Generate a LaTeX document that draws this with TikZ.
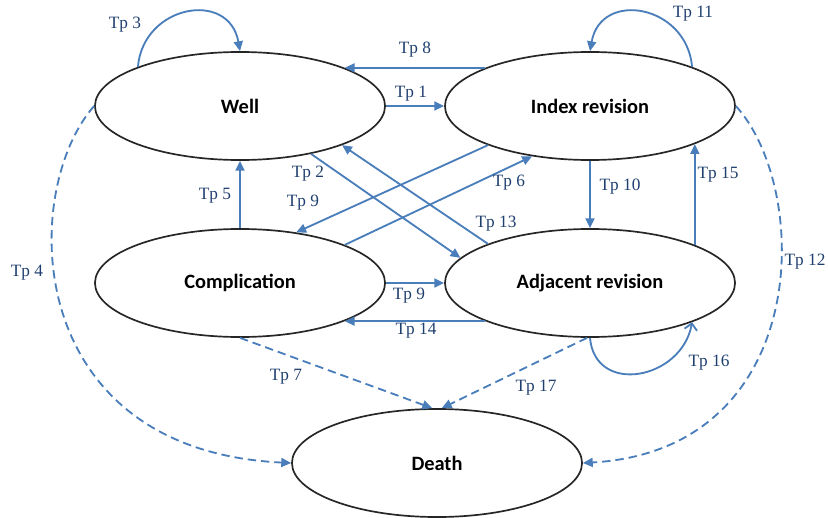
\documentclass[tikz,border=0pt]{standalone}
\usepackage{fontspec}
\setmainfont{Liberation Serif}
\newfontfamily\statefont{Carlito}
\usepackage{tikz}
\usetikzlibrary{shapes.geometric}
\usetikzlibrary{arrows.meta}
\usepackage{color}
\definecolor{tpblue}{HTML}{4A7EBB}
\definecolor{tptext}{HTML}{1F3F6F}

\begin{document}
\begin{tikzpicture}[x=0.025cm, y=0.025cm,
    state/.style={ellipse, draw=black!85, line width=1.2pt, minimum width=7.25cm, minimum height=2.7cm,
        font=\statefont\bfseries\fontsize{14.5}{17}\selectfont},
    trans/.style={tpblue, line width=1.3pt, -{Triangle[length=7pt,width=6.4pt]}},
    dtrans/.style={trans, dash pattern=on 6pt off 3.5pt},
    tp/.style={text=tptext, font=\fontsize{12.3}{14}\selectfont, inner sep=0pt}]
    \useasboundingbox (0,0) rectangle (828,-518);

    % Define the states
    \node[state] (well) at (240,-106) {Well};
    \node[state] (index) at (590,-106) {Index revision};
    \node[state] (comp) at (240,-283) {Complication};
    \node[state] (adj) at (590,-283) {Adjacent revision};
    \node[state] (death) at (437,-463) {Death};

    % Draw the horizontal transitions
    \draw[trans] (well.east) -- (index.west);
    \draw[trans] (index.160) -- (well.20);
    \draw[trans] (comp.east) -- (adj.west);
    \draw[trans] (adj.200) -- (comp.340);

    % Draw the vertical transitions
    \draw[trans] (comp.north) -- (well.south);
    \draw[trans] (index.south) -- (adj.north);
    \draw[trans] (adj.20) -- (index.340);

    % Draw the crossing transitions
    \draw[trans] (well.326) -- (adj.169);
    \draw[trans] (adj.159) -- (well.339);
    \draw[trans] (index.201) -- (comp.42);
    \draw[trans] (comp.20) -- (index.221);

    % Draw the self loops
    \draw[trans] (well.159) to[out=85, in=100, looseness=1.55] (well.north);
    \draw[trans] (index.21) to[out=95, in=80, looseness=1.55] (index.north);
    \draw[tpblue, line width=1.3pt, -{Straight Barb[length=4.5pt,width=9pt]}]
        (adj.south) to[out=-85, in=-100, looseness=1.45] (adj.339);

    % Draw the transitions to death
    \draw[dtrans] (well.west) .. controls (20,-190) and (20,-450) .. (death.west);
    \draw[dtrans] (index.east) .. controls (812,-190) and (812,-450) .. (death.east);
    \draw[dtrans] (comp.south) -- (death.95);
    \draw[dtrans] (adj.267) -- (death.85);

    % Label the transitions
    \node[tp] (tp1) at (411,-94) {Tp 1};
    \node[tp] (tp2) at (308,-174) {Tp 2};
    \node[tp] (tp3) at (125,-25) {Tp 3};
    \node[tp] (tp4) at (27,-273) {Tp 4};
    \node[tp] (tp5) at (215,-196) {Tp 5};
    \node[tp] (tp6) at (509,-183) {Tp 6};
    \node[tp] (tp7) at (286,-377) {Tp 7};
    \node[tp] (tp8) at (415,-50) {Tp 8};
    \node[tp] (tp9a) at (303,-203) {Tp 9};
    \node[tp] (tp9b) at (409,-296) {Tp 9};
    \node[tp] (tp10) at (620,-187) {Tp 10};
    \node[tp] (tp11) at (693,-14) {Tp 11};
    \node[tp] (tp12) at (805,-262) {Tp 12};
    \node[tp] (tp13) at (496,-224) {Tp 13};
    \node[tp] (tp14) at (416,-331) {Tp 14};
    \node[tp] (tp15) at (718,-175) {Tp 15};
    \node[tp] (tp16) at (709,-363) {Tp 16};
    \node[tp] (tp17) at (536,-388) {Tp 17};

\end{tikzpicture}
\end{document}
